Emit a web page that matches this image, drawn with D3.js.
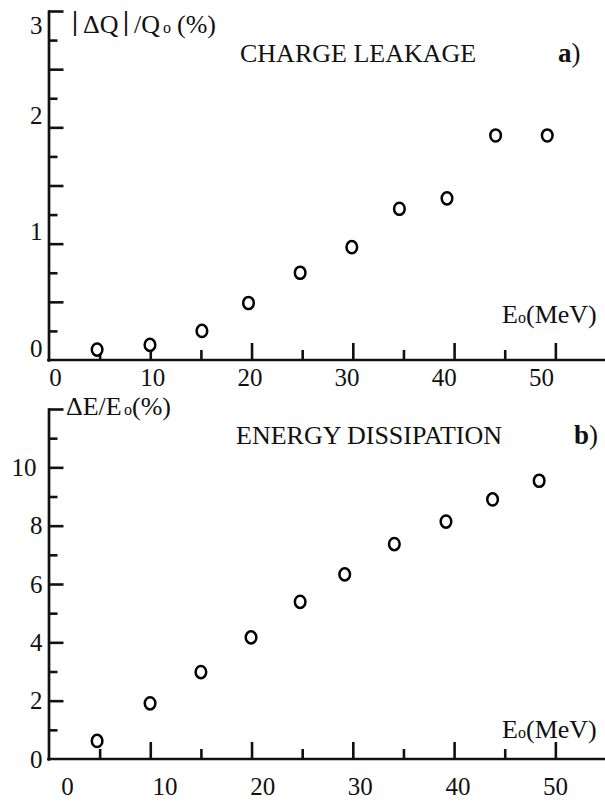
<!DOCTYPE html>
<html>
<head>
<meta charset="utf-8">
<script src="https://cdn.jsdelivr.net/npm/d3@7"></script>
<style>
  html, body { margin: 0; padding: 0; background: #fff; }
  svg { display: block; }
  text { font-family: "Liberation Serif", "Times New Roman", serif; fill: #111; }
</style>
</head>
<body>
<div id="chart"></div>
<script>
// ---------- data ----------
const energyA     = [4.75, 9.97, 15.1, 19.7, 24.8, 29.9, 34.6, 39.3, 44.1, 49.2];
const chargeLeak  = [0.09, 0.13, 0.25, 0.49, 0.75, 0.97, 1.30, 1.39, 1.93, 1.93];
const energyB     = [4.75, 9.98, 15.0, 19.95, 24.8, 29.2, 34.1, 39.2, 43.8, 48.4];
const energyDiss  = [0.62, 1.91, 2.98, 4.17, 5.39, 6.33, 7.37, 8.14, 8.90, 9.54];

const xTickLabels   = [0, 10, 20, 30, 40, 50];
const xLongTicks    = [10, 20, 30, 40, 50];
const xShortTicks   = [5, 15, 25, 35, 45];
const yTickLabelsA  = [0, 1, 2, 3];
const yLongTicksA   = [0.5, 1, 1.5, 2, 2.5, 3];
const yShortTicksA  = [0.25, 0.75, 1.25, 1.75, 2.25, 2.75];
const yTickLabelsB  = [0, 2, 4, 6, 8, 10];
const yLongTicksB   = [2, 4, 6, 8, 10, 12];
const yShortTicksB  = [1, 3, 5, 7, 9, 11];

// ---------- setup ----------
const W = 605, H = 801;
const svg = d3.select("#chart").append("svg").attr("width", W).attr("height", H);
svg.append("rect").attr("width", W).attr("height", H).attr("fill", "#fff");

const x = d3.scaleLinear().domain([0, 55]).range([49, 606]);
const yA = d3.scaleLinear().domain([0, 3]).range([360, 11]);
const yB = d3.scaleLinear().domain([0, 12]).range([759, 409]);
const xLabA = d3.scaleLinear().domain([0, 50]).range([55, 541]);
const xLabB = d3.scaleLinear().domain([0, 50]).range([67, 555]);

const AX_W = 2.7;
const axisX0 = 48.5;

function styleAxis(g) {
  g.selectAll("path.domain").attr("stroke", "#111").attr("stroke-width", AX_W).attr("stroke-linecap", "square");
  g.selectAll(".tick line").attr("stroke", "#111").attr("stroke-width", 2.6);
}

function drawPanel(opt) {
  const { y, yLong, yShort, yLabels, xLab, xLabelPad, yLabelAdjust, yLabelDx } = opt;
  const y0 = y(0);

  const gy1 = svg.append("g").attr("transform", `translate(${axisX0},0)`)
    .call(d3.axisRight(y).tickValues(yLong).tickSize(15).tickSizeOuter(0).tickFormat(""));
  const gy2 = svg.append("g").attr("transform", `translate(${axisX0},0)`)
    .call(d3.axisRight(y).tickValues(yShort).tickSize(9).tickSizeOuter(0).tickFormat(""));
  gy2.select("path.domain").remove();
  styleAxis(gy1); styleAxis(gy2);

  const gyl = svg.append("g").attr("transform", `translate(${axisX0},0)`)
    .call(d3.axisLeft(y).tickValues(yLabels).tickSize(0).tickPadding(6).tickFormat(d3.format("d")));
  gyl.select("path.domain").remove();
  gyl.selectAll("text")
    .attr("font-size", 25)
    .attr("fill", "#111")
    .attr("y", d => yLabelAdjust(d))
    .attr("dx", d => yLabelDx(d));

  const gx1 = svg.append("g").attr("transform", `translate(0,${y0})`)
    .call(d3.axisTop(x).tickValues(xLongTicks).tickSize(17).tickSizeOuter(0).tickFormat(""));
  const gx2 = svg.append("g").attr("transform", `translate(0,${y0})`)
    .call(d3.axisTop(x).tickValues(xShortTicks).tickSize(10).tickSizeOuter(0).tickFormat(""));
  gx2.select("path.domain").remove();
  styleAxis(gx1); styleAxis(gx2);
  gx1.select("path.domain").attr("d", `M${axisX0},0H${W}`);

  const gxl = svg.append("g").attr("transform", `translate(0,${y0})`)
    .call(d3.axisBottom(xLab).tickValues(xTickLabels).tickSize(0).tickPadding(xLabelPad).tickFormat(d3.format("d")));
  gxl.select("path.domain").remove();
  gxl.selectAll("text").attr("font-size", 25).attr("fill", "#111");
}

drawPanel({
  y: yA, yLong: yLongTicksA, yShort: yShortTicksA, yLabels: yTickLabelsA,
  xLab: xLabA, xLabelPad: 8,
  yLabelAdjust: d => (d === 3 ? 14 : -12),
  yLabelDx: d => 0
});
drawPanel({
  y: yB, yLong: yLongTicksB, yShort: yShortTicksB, yLabels: yTickLabelsB,
  xLab: xLabB, xLabelPad: 18,
  yLabelAdjust: d => 0,
  yLabelDx: d => (d === 10 ? -6 : 0)
});

// ---------- points ----------
function drawPoints(xs, ys, y) {
  svg.append("g").selectAll("ellipse")
    .data(xs.map((v, i) => [v, ys[i]]))
    .join("ellipse")
    .attr("cx", d => x(d[0]))
    .attr("cy", d => y(d[1]))
    .attr("rx", 5.3)
    .attr("ry", 6.1)
    .attr("fill", "#fff")
    .attr("stroke", "#000")
    .attr("stroke-width", 2.5);
}
drawPoints(energyA, chargeLeak, yA);
drawPoints(energyB, energyDiss, yB);

// ---------- text annotations ----------
const F = 26;
function txt(xp, yp, s, size, weight) {
  return svg.append("text").attr("x", xp).attr("y", yp)
    .attr("font-size", size || F).attr("font-weight", weight || "normal").text(s);
}

// panel a y label: |ΔQ|/Qo (%)
txt(72, 30, "|", 27, "bold");
txt(83, 33, "ΔQ");
txt(123, 30, "|", 27, "bold");
txt(134, 33, "/Q");
txt(163, 33, "o", 16);
txt(177, 33, "(%)");

// panel b y label: ΔE/Eo(%)
txt(66, 415, "ΔE/E");
txt(124, 415, "o", 16);
txt(132, 415, "(%)");

// x-axis names
txt(502, 323, "E");
txt(518, 323, "o", 16);
txt(526, 323, "(MeV)");
txt(502, 738, "E");
txt(518, 738, "o", 16);
txt(526, 738, "(MeV)");

// panel titles
txt(240, 62, "CHARGE LEAKAGE");
const ta = svg.append("text").attr("x", 558).attr("y", 62).attr("font-size", 27);
ta.append("tspan").attr("font-weight", "bold").text("a");
ta.append("tspan").text(")");

txt(236, 444, "ENERGY DISSIPATION");
const tb = svg.append("text").attr("x", 574).attr("y", 444).attr("font-size", 27);
tb.append("tspan").attr("font-weight", "bold").text("b");
tb.append("tspan").text(")");
</script>
</body>
</html>
